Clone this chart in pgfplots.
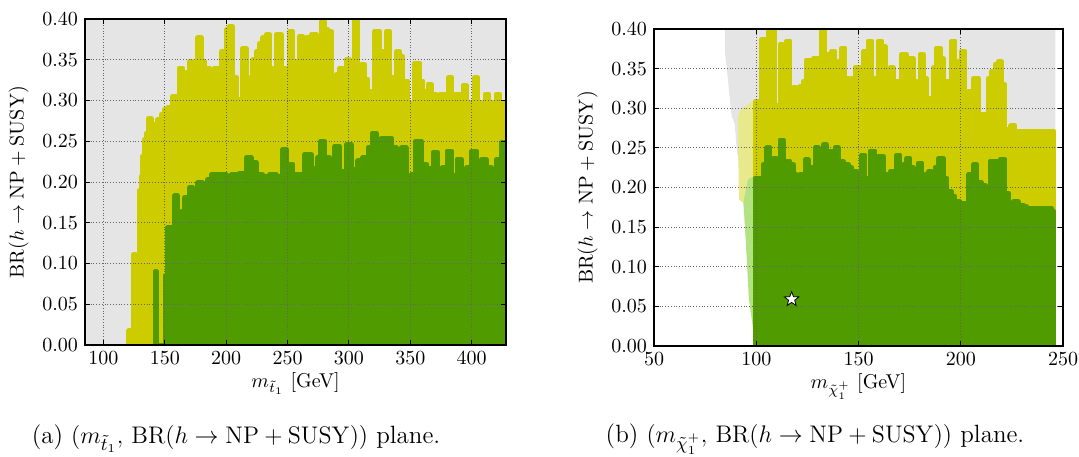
\documentclass[border=0pt]{standalone}
\usepackage{pgfplots}
\pgfplotsset{compat=1.18}
\definecolor{yel}{RGB}{204,204,0}
\definecolor{grn}{RGB}{80,155,0}
\definecolor{bggray}{RGB}{229,229,229}
\definecolor{lightyel}{RGB}{232,232,140}
\definecolor{lightgrn}{RGB}{178,226,130}
\pgfdeclareplotmark{fstar}{%
  \pgfpathmoveto{\pgfpointpolar{90}{\pgfplotmarksize}}%
  \pgfpathlineto{\pgfpointpolar{126}{0.42\pgfplotmarksize}}%
  \pgfpathlineto{\pgfpointpolar{162}{\pgfplotmarksize}}%
  \pgfpathlineto{\pgfpointpolar{198}{0.42\pgfplotmarksize}}%
  \pgfpathlineto{\pgfpointpolar{234}{\pgfplotmarksize}}%
  \pgfpathlineto{\pgfpointpolar{270}{0.42\pgfplotmarksize}}%
  \pgfpathlineto{\pgfpointpolar{306}{\pgfplotmarksize}}%
  \pgfpathlineto{\pgfpointpolar{342}{0.42\pgfplotmarksize}}%
  \pgfpathlineto{\pgfpointpolar{18}{\pgfplotmarksize}}%
  \pgfpathlineto{\pgfpointpolar{54}{0.42\pgfplotmarksize}}%
  \pgfpathclose\pgfusepathqfillstroke}
\pgfplotsset{mystyle/.style={scale only axis, axis on top,
  xmajorgrids, ymajorgrids,
  grid style={densely dotted, gray!80!black, line width=0.5pt},
  axis line style={line width=0.9pt},
  tick align=inside, major tick length=2.5pt, tick style={black, line width=0.5pt},
  ymin=0, ymax=0.4,
  ytick={0,0.05,0.1,0.15,0.2,0.25,0.3,0.35,0.4},
  yticklabel style={/pgf/number format/.cd, fixed, fixed zerofill, precision=2},
  scaled y ticks=false,
  xlabel style={yshift=3pt},
  ylabel={BR$(h\to\mathrm{NP}+\mathrm{SUSY})$},
  every axis plot/.append style={draw=none}},
  dots/.style={draw=#1, fill=#1, line width=2.4pt, line join=round}}
\begin{document}
\begin{tikzpicture}
\useasboundingbox (0,0) rectangle (539.5pt,-228pt);
% ---------------- left panel
\begin{axis}[mystyle, at={(42.5pt,-172.5pt)}, anchor=south west,
  width=210.5pt, height=163pt,
  xmin=85, xmax=428, xtick={100,150,200,250,300,350,400},
  axis background/.style={fill=bggray},
  xlabel={$m_{\tilde{t}_1}$ [GeV]}]
\addplot[const plot, dots=yel] coordinates {(120.7,0.0175)(122.3,0)(124.3,0.111)(126.3,0)(128.5,0.015)(128.9,0.069)(129.3,0.19)(130.7,0.207)(132,0.232)(133.4,0.252)(134.8,0.26)(136.7,0.278)(138.9,0.266)(141.6,0.271)(144.3,0.277)(147,0.283)(149.7,0.289)(152.4,0.291)(156.5,0.305)(160.6,0.305)(162,0.340)(164.7,0.311)(167.4,0.334)(170.1,0.348)(172.8,0.324)(176.9,0.377)(179.6,0.348)(182.3,0.340)(186.4,0.334)(190.5,0.340)(193.2,0.309)(195.9,0.360)(200,0.387)(202.7,0.391)(205.4,0.328)(208.7,0.301)(213.6,0.364)(216.3,0.311)(219.6,0.328)(221.7,0.350)(224.5,0.360)(227.2,0.370)(229.9,0.377)(232.6,0.381)(235.3,0.340)(238,0.332)(240.8,0.381)(244.8,0.340)(248.9,0.338)(251.6,0.385)(254.3,0.324)(257.1,0.348)(259.8,0.379)(262.5,0.315)(265.2,0.377)(267.9,0.311)(269.8,0.381)(273.4,0.303)(277.4,0.397)(280.2,0.387)(282.9,0.385)(285.6,0.320)(289.7,0.332)(292.4,0.340)(295.1,0.299)(297.8,0.350)(300.5,0.303)(304.6,0.398)(307.3,0.320)(310,0.344)(312.8,0.326)(315.5,0.311)(318.2,0.299)(320.9,0.385)(325,0.360)(327.7,0.322)(330.4,0.385)(333.2,0.328)(335.9,0.299)(338.6,0.360)(341.3,0.354)(344,0.324)(348.1,0.297)(353.5,0.346)(357.6,0.324)(360.3,0.311)(364.4,0.320)(367.1,0.307)(371.2,0.295)(374.6,0.308)(378,0.288)(381,0.328)(384,0.298)(387,0.308)(390,0.278)(393,0.318)(396,0.298)(399,0.288)(402,0.328)(405,0.298)(408,0.288)(411,0.308)(414,0.298)(417,0.278)(420,0.308)(423,0.288)(426,0.298)(428,0.298)} \closedcycle;
\addplot[const plot, dots=grn] coordinates {(142,0.090)(143.2,0)(150.3,0.085)(152.4,0.144)(155.2,0.140)(157.9,0.183)(160.6,0.128)(163.3,0.164)(166,0.181)(170.1,0.193)(172.8,0.181)(176.9,0.199)(181,0.197)(185.1,0.203)(187.8,0.209)(194.6,0.209)(200,0.205)(204.1,0.209)(210.9,0.211)(216.3,0.230)(220.4,0.224)(224.5,0.209)(229.9,0.207)(235.3,0.209)(240.8,0.207)(246.2,0.240)(248.9,0.222)(254.3,0.209)(259.8,0.209)(263.9,0.234)(269.3,0.217)(274.7,0.230)(276.6,0.250)(280.2,0.230)(284.2,0.209)(288.3,0.244)(292.4,0.213)(297.8,0.246)(301.9,0.215)(307.3,0.226)(311.4,0.230)(315.5,0.242)(319,0.260)(322.3,0.246)(326.4,0.254)(330.4,0.254)(334.5,0.242)(338.6,0.222)(342.7,0.242)(346.7,0.197)(350.8,0.209)(354.3,0.250)(359,0.222)(363,0.217)(368.5,0.236)(372.6,0.217)(376,0.218)(380,0.238)(384,0.208)(388,0.228)(392,0.198)(396,0.218)(400,0.238)(404,0.208)(408,0.228)(412,0.218)(416,0.198)(420,0.228)(424,0.248)(428,0.248)} \closedcycle;
\end{axis}
% ---------------- right panel
\begin{axis}[mystyle, at={(327pt,-173pt)}, anchor=south west,
  width=204.5pt, height=158.5pt,
  xmin=50, xmax=250, xtick={50,100,150,200,250},
  xlabel={$m_{\tilde{\chi}_1^+}$ [GeV]}]
\addplot[fill=bggray] coordinates {(84.7,0.4)(246.3,0.4)(246.3,0)(99.5,0)(92,0.23)(90.5,0.245)(89.5,0.28)(88,0.29)(87.5,0.30)(86,0.34)(84.7,0.37)} -- cycle;
\addplot[fill=lightyel] coordinates {(91,0.29)(93,0.30)(96,0.305)(99.3,0.31)(99.3,0.19)(94,0.18)(91.5,0.185)} -- cycle;
\addplot[fill=lightgrn] coordinates {(94,0.185)(96,0.21)(99.3,0.215)(99.8,0)(99.3,0)(98,0.03)(96.4,0.06)(94.8,0.135)(93.8,0.18)} -- cycle;
\addplot[const plot, dots=yel] coordinates {(99.6,0.309)(102.6,0.387)(104.3,0.317)(105.9,0.398)(107.5,0.398)(109.2,0.304)(111.6,0.380)(113.2,0.380)(114.9,0.385)(116.5,0.309)(118.1,0.326)(119.8,0.300)(121.4,0.328)(123.0,0.334)(124.7,0.361)(126.3,0.347)(127.9,0.363)(130.4,0.321)(132.0,0.398)(133.6,0.368)(135.2,0.317)(136.9,0.372)(138.5,0.342)(140.1,0.359)(141.8,0.376)(143.4,0.338)(145.0,0.317)(146.7,0.338)(148.3,0.351)(150.7,0.344)(152.4,0.372)(154.8,0.385)(156.4,0.338)(158.1,0.328)(159.7,0.385)(161.3,0.378)(163.0,0.309)(165.4,0.351)(167.0,0.330)(168.7,0.334)(171.1,0.368)(173.6,0.309)(175.2,0.363)(176.8,0.334)(178.4,0.309)(180.1,0.368)(181.7,0.338)(183.3,0.313)(185.0,0.311)(186.6,0.351)(188.2,0.376)(189.9,0.363)(191.5,0.334)(193.9,0.281)(195.6,0.385)(197.2,0.359)(198.8,0.338)(200.4,0.372)(202.1,0.309)(203.7,0.321)(206.2,0.338)(208.6,0.292)(211.0,0.292)(213.5,0.338)(215.1,0.347)(216.7,0.355)(218.4,0.359)(220.0,0.330)(221.6,0.273)(224.5,0.278)(226.5,0.271)(245.6,0.271)} \closedcycle;
\addplot[fill=grn] coordinates {(99.1,0.214)(99.3,0.05)(100.3,0)(102.6,0)(102.6,0.214)} -- cycle;
\addplot[const plot, dots=grn] coordinates {(99.6,0.212)(102.6,0.212)(103.4,0.229)(105.1,0.250)(106.7,0.233)(108.3,0.237)(110.0,0.233)(111.6,0.260)(113.2,0.220)(114.9,0.233)(116.5,0.229)(118.1,0.216)(119.8,0.212)(121.4,0.216)(123.9,0.235)(125.5,0.225)(128.7,0.250)(130.4,0.233)(132.8,0.254)(134.4,0.246)(136.9,0.246)(138.5,0.250)(140.1,0.233)(142.6,0.229)(145.0,0.225)(146.7,0.220)(147.5,0.220)(149.1,0.216)(151.6,0.241)(153.2,0.212)(155.6,0.246)(158.1,0.216)(159.7,0.239)(162.1,0.216)(165.4,0.220)(167.0,0.212)(168.7,0.241)(170.3,0.220)(171.9,0.229)(173.6,0.237)(175.2,0.225)(176.8,0.220)(179.3,0.231)(180.9,0.203)(182.5,0.216)(184.1,0.220)(185.8,0.212)(187.4,0.225)(189.0,0.237)(191.5,0.212)(193.1,0.195)(195.6,0.189)(197.2,0.182)(199.6,0.180)(202.1,0.180)(203.7,0.216)(206.2,0.229)(207.8,0.206)(210.2,0.203)(211.9,0.197)(214.3,0.233)(215.9,0.233)(217.6,0.233)(219.2,0.235)(221.6,0.193)(223.3,0.180)(225.7,0.182)(228.1,0.178)(230.6,0.176)(232.2,0.174)(244.5,0.170)(245.6,0.170)} \closedcycle;
\addplot[only marks, mark=fstar, mark size=3.8pt, mark options={fill=white, draw=black, line width=0.4pt}] coordinates {(117.3,0.059)};
\end{axis}
\node[font=\fontsize{12.5}{15}\selectfont] at (118pt,-219.5pt) {(a) $(m_{\tilde{t}_1},\,\mathrm{BR}(h\to\mathrm{NP}+\mathrm{SUSY}))$ plane.};
\node[font=\fontsize{12.5}{15}\selectfont] at (407.5pt,-219.5pt) {(b) $(m_{\tilde{\chi}_1^+},\,\mathrm{BR}(h\to\mathrm{NP}+\mathrm{SUSY}))$ plane.};
\end{tikzpicture}
\end{document}
